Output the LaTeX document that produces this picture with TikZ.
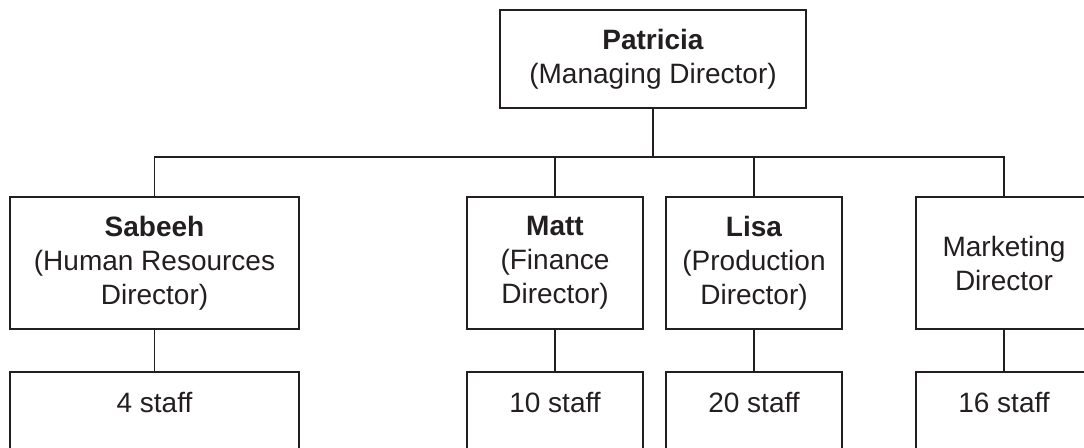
\documentclass[tikz,border=0pt]{standalone}
\usepackage{fontspec}
\setmainfont{Liberation Sans}
\definecolor{ink}{RGB}{35,31,32}
\begin{document}
\begin{tikzpicture}[x=0.75pt,y=-0.75pt,
  box/.style={draw=ink, line width=1.4pt, rectangle, inner sep=0pt, align=center, text=ink,
              font=\fontsize{21pt}{25.5pt}\selectfont},
  conn/.style={draw=ink, line width=0.9pt},
  lbl/.style={text=ink, inner sep=0pt, font=\fontsize{21pt}{25.5pt}\selectfont}]
\useasboundingbox (0,0) rectangle (1084,448);
\clip (0,0) rectangle (1084,448);
\fill[white] (0,0) rectangle (1084,448);
% top
\node[box, minimum width=229.5pt, minimum height=73.5pt] (P) at (653,59)
  {\textbf{Patricia}\\(Managing Director)};
% directors
\node[box, minimum width=216.75pt, minimum height=99pt] (S) at (154.5,263)
  {\textbf{Sabeeh}\\(Human Resources\\Director)};
\node[box, minimum width=132pt, minimum height=99pt] (M) at (555,263)
  {\textbf{Matt}\\(Finance\\Director)};
\node[box, minimum width=132pt, minimum height=99pt] (L) at (754,263)
  {\textbf{Lisa}\\(Production\\Director)};
\node[box, minimum width=132pt, minimum height=99pt] (K) at (1004,263)
  {Marketing\\Director};
% staff boxes
\node[box, minimum width=216.75pt, minimum height=99pt] (S2) at (154.5,438) {};
\node[box, minimum width=132pt, minimum height=99pt] (M2) at (555,438) {};
\node[box, minimum width=132pt, minimum height=99pt] (L2) at (754,438) {};
\node[box, minimum width=132pt, minimum height=99pt] (K2) at (1004,438) {};
\node[lbl, anchor=base] (S2t) at (154.5,412) {4 staff};
\node[lbl, anchor=base] (M2t) at (555,412) {10 staff};
\node[lbl, anchor=base] (L2t) at (754,412) {20 staff};
\node[lbl, anchor=base] (K2t) at (1004,412) {16 staff};
% connectors
\coordinate (J) at (653,157);
\draw[conn] (P.south) -- (J);
\draw[conn] (S.north) |- (J) -| (K.north);
\draw[conn] (M.north) -- (M.north |- J);
\draw[conn] (L.north) -- (L.north |- J);
\draw[conn] (S.south) -- (S2.north);
\draw[conn] (M.south) -- (M2.north);
\draw[conn] (L.south) -- (L2.north);
\draw[conn] (K.south) -- (K2.north);
\end{tikzpicture}
\end{document}
